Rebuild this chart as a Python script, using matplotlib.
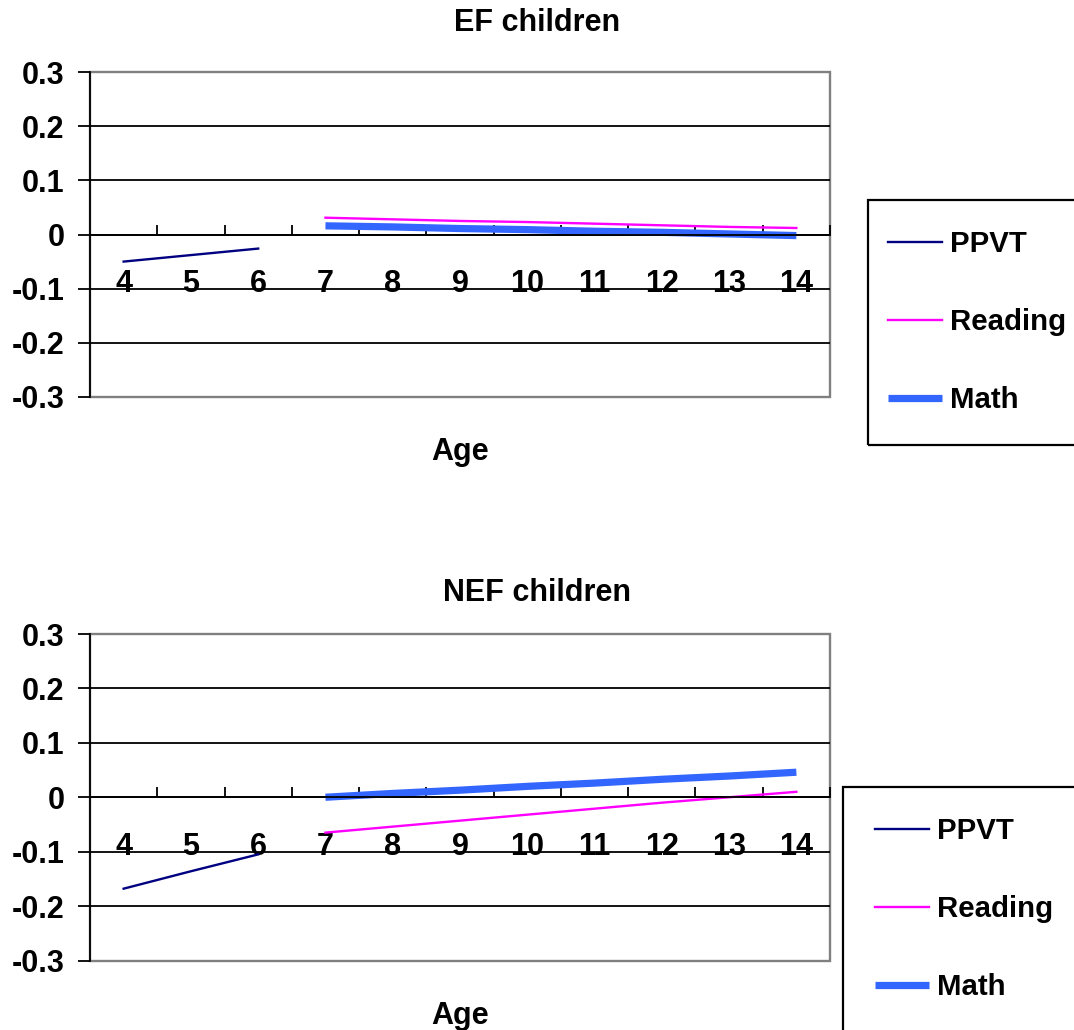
import numpy as np
import matplotlib
matplotlib.use("Agg")
import matplotlib.pyplot as plt
from matplotlib.patches import Rectangle

plt.rcParams['font.family'] = ['Liberation Sans', 'DejaVu Sans']
plt.rcParams['font.weight'] = 'bold'

# effect size by age, two groups
ages = [4, 5, 6, 7, 8, 9, 10, 11, 12, 13, 14]
ppvt_ages = [4, 5, 6]
school_ages = [7, 8, 9, 10, 11, 12, 13, 14]

ef_ppvt = [-0.050, -0.038, -0.026]
ef_reading = [0.031, 0.028, 0.025, 0.023, 0.020, 0.017, 0.014, 0.012]
ef_math = [0.016, 0.014, 0.011, 0.009, 0.006, 0.004, 0.001, -0.002]

nef_ppvt = [-0.168, -0.136, -0.105]
nef_reading = [-0.065, -0.054, -0.043, -0.032, -0.021, -0.010, 0.000, 0.010]
nef_math = [0.000, 0.007, 0.013, 0.020, 0.026, 0.033, 0.039, 0.046]

yticks = [-0.3, -0.2, -0.1, 0, 0.1, 0.2, 0.3]
ylabels = ['-0.3', '-0.2', '-0.1', '0', '0.1', '0.2', '0.3']

FS = 22
LEG_FS = 21.2
W, H = 1074, 1030


def fx(px):
    return px / W


def fy(py):
    return 1 - py / H


def panel(fig, rect, ppvt, reading, math_, title, title_y, age_y,
          leg_anchor, box_rect):
    ax = fig.add_axes(rect)
    ax.plot(ppvt_ages, ppvt, color='#000080', lw=1.7, label='PPVT')
    ax.plot(school_ages, reading, color='#FF00FF', lw=1.7, label='Reading')
    ax.plot(school_ages, math_, color='#3366FF', lw=5.2, label='Math',
            solid_capstyle='butt')

    ax.set_xlim(3.5, 14.5)
    ax.set_ylim(-0.3, 0.3)

    # plot area border in gray, axis at zero in black
    ax.patch.set_edgecolor('#808080')
    ax.patch.set_linewidth(1.7)
    ax.spines['top'].set_visible(False)
    ax.spines['right'].set_visible(False)
    ax.spines['bottom'].set_position(('data', 0))
    for s in ('left', 'bottom'):
        ax.spines[s].set_color('black')
        ax.spines[s].set_linewidth(1.3)
        ax.spines[s].set_zorder(3)

    ax.set_yticks(yticks)
    ax.set_yticklabels(ylabels)
    ax.tick_params(axis='y', direction='out', length=8.5, width=1.3,
                   pad=10, labelsize=FS)
    ax.yaxis.grid(True, color='black', lw=1.3)
    gl = ax.yaxis.get_gridlines()
    gl[0].set_visible(False)
    gl[-1].set_visible(False)
    ax.set_axisbelow(True)

    ax.set_xticks(ages)
    ax.set_xticklabels([str(a) for a in ages])
    ax.set_xticks([a + 0.5 for a in ages], minor=True)
    ax.tick_params(axis='x', which='major', length=0, pad=25, labelsize=FS)
    ax.tick_params(axis='x', which='minor', direction='in', length=7.2,
                   width=1.3)
    for lbl in ax.get_xticklabels() + ax.get_yticklabels():
        lbl.set_fontweight('bold')

    ax.text(0.5, age_y, 'Age', transform=ax.transAxes, ha='center',
            va='center', fontsize=FS, fontweight='bold')
    fig.text(0.5, title_y, title, ha='center', va='center', fontsize=FS,
             fontweight='bold')

    fig.patches.append(Rectangle(box_rect[:2], box_rect[2], box_rect[3],
                                 transform=fig.transFigure, fill=False,
                                 edgecolor='black', lw=1.6))
    leg = ax.legend(loc='center left', bbox_to_anchor=leg_anchor,
                    bbox_transform=fig.transFigure, frameon=False,
                    fontsize=LEG_FS, handlelength=1.85, handletextpad=0.27,
                    labelspacing=1.7, borderpad=0, borderaxespad=0)
    for t in leg.get_texts():
        t.set_fontweight('bold')
    return ax


fig = plt.figure(figsize=(W / 100, H / 100), dpi=100)

panel(fig, [fx(90), fy(397), fx(830) - fx(90), fy(72) - fy(397)],
      ef_ppvt, ef_reading, ef_math, 'EF children', fy(23), -0.17,
      (fx(888), fy(322)),
      (fx(868), fy(445), 0.3, fy(200) - fy(445)))

panel(fig, [fx(90), fy(960.5), fx(830) - fx(90), fy(634) - fy(960.5)],
      nef_ppvt, nef_reading, nef_math, 'NEF children', fy(593), -0.17,
      (fx(875), fy(909)),
      (fx(843), -0.1, 0.3, fy(787) + 0.1))

fig.savefig('out.png', dpi=100)
